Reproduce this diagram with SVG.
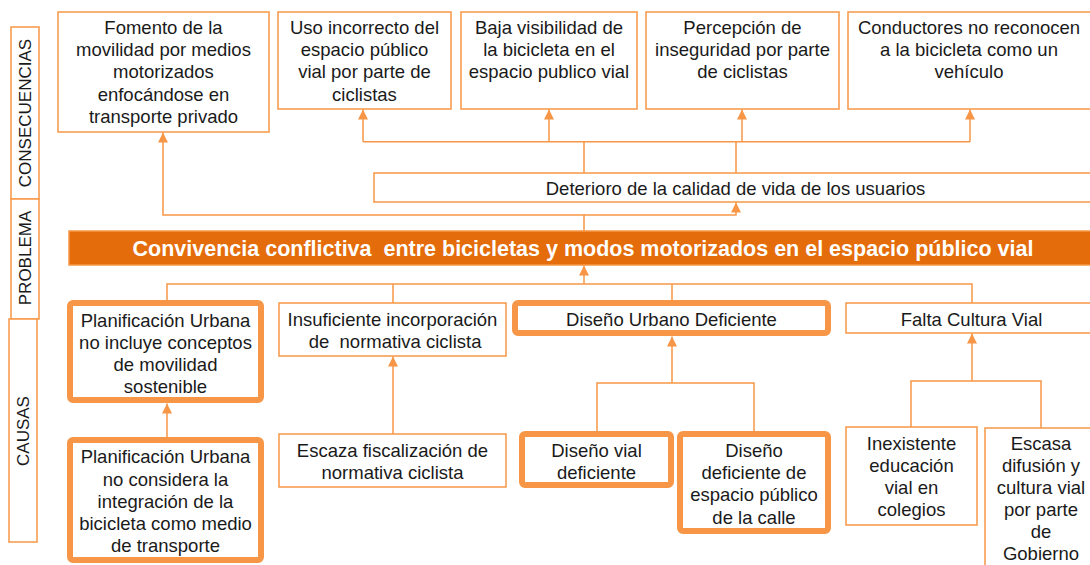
<svg xmlns="http://www.w3.org/2000/svg" width="1090" height="565" viewBox="0 0 1090 565">
<style>
text{font-family:"Liberation Sans",Arial,sans-serif;font-size:18.5px;fill:#1a1a1a;text-anchor:middle}
.box{fill:#fff;stroke:#F79646;stroke-width:1.5}
.thick{fill:#fff;stroke:#F79646;stroke-width:6}
.lab{fill:#fff;stroke:#F79646;stroke-width:1.5}
.labt{font-size:17px}
.bar{fill:#E46C0A;stroke:#F79646;stroke-width:1.5}
.bart{font-size:21.5px;font-weight:bold;fill:#fff}
.con{fill:none;stroke:#F79646;stroke-width:1.5}
.arr{marker-end:url(#ah)}
</style>
<defs>
<marker id="ah" markerUnits="userSpaceOnUse" markerWidth="10" markerHeight="10" refX="9" refY="4.5" orient="auto" viewBox="0 0 9 9">
<path d="M0,0 L9,4.5 L0,9 z" fill="#F79646"/>
</marker>
</defs>

<g id="label-consecuencias">
<rect class="lab" x="11" y="27" width="28" height="172"/>
<text class="labt" transform="translate(31,113) rotate(-90)">CONSECUENCIAS</text>
</g>
<g id="label-problema">
<rect class="lab" x="11" y="199" width="28" height="120"/>
<text class="labt" transform="translate(31,258) rotate(-90)">PROBLEMA</text>
</g>
<g id="label-causas">
<rect class="lab" x="9" y="319" width="28" height="223"/>
<text class="labt" transform="translate(29,431) rotate(-90)">CAUSAS</text>
</g>

<g id="connectors">
<path class="con arr" d="M584,231 V215 H163 V132.5"/>
<path class="con arr" d="M584,215 H736 V202.5"/>
<path class="con" d="M584,173 V141.7 M736,173 V141.7 M363,141.7 H970"/>
<path class="con arr" d="M363,141.7 V109.5"/>
<path class="con arr" d="M549,141.7 V109.5"/>
<path class="con arr" d="M742,141.7 V109.5"/>
<path class="con arr" d="M970,141.7 V109.5"/>
<path class="con" d="M167,300 V284 H972 V303 M393,284 V303 M672,284 V300"/>
<path class="con arr" d="M584,284 V265.5"/>
<path class="con arr" d="M167,437 V403.5"/>
<path class="con arr" d="M393,434 V356.5"/>
<path class="con" d="M597,431 V383 H754 V431"/>
<path class="con arr" d="M672,383 V336.5"/>
<path class="con" d="M911,427 V381 H1041 V428"/>
<path class="con arr" d="M972,381 V333.5"/>
</g>

<g id="c1">
<rect class="box" x="58" y="12" width="211" height="120"/>
<text x="163.5" y="34">Fomento de la</text>
<text x="163.5" y="56.2">movilidad por medios</text>
<text x="163.5" y="78.4">motorizados</text>
<text x="163.5" y="100.6">enfocándose en</text>
<text x="163.5" y="122.8">transporte privado</text>
</g>
<g id="c2">
<rect class="box" x="278" y="12" width="173" height="97"/>
<text x="364.5" y="34">Uso incorrecto del</text>
<text x="364.5" y="56.2">espacio público</text>
<text x="364.5" y="78.4">vial por parte de</text>
<text x="364.5" y="100.6">ciclistas</text>
</g>
<g id="c3">
<rect class="box" x="461" y="12" width="176" height="97"/>
<text x="549" y="34">Baja visibilidad de</text>
<text x="549" y="56.2">la bicicleta en el</text>
<text x="549" y="78.4">espacio publico vial</text>
</g>
<g id="c4">
<rect class="box" x="646" y="12" width="193" height="97"/>
<text x="742.5" y="34">Percepción de</text>
<text x="742.5" y="56.2">inseguridad por parte</text>
<text x="742.5" y="78.4">de ciclistas</text>
</g>
<g id="c5">
<rect class="box" x="848" y="12" width="260" height="97"/>
<text x="969" y="34">Conductores no reconocen</text>
<text x="969" y="56.2">a la bicicleta como un</text>
<text x="969" y="78.4">vehículo</text>
</g>
<g id="deterioro">
<rect class="box" x="374" y="173" width="730" height="29"/>
<text x="735.5" y="195">Deterioro de la calidad de vida de los usuarios</text>
</g>
<g id="problema">
<rect class="bar" x="69" y="231" width="1035" height="34"/>
<text class="bart" x="583" y="256" xml:space="preserve">Convivencia conflictiva  entre bicicletas y modos motorizados en el espacio público vial</text>
</g>
<g id="plan1">
<rect class="thick" x="70" y="303" width="191" height="97" rx="3"/>
<text x="165.5" y="326.7">Planificación Urbana</text>
<text x="165.5" y="348.9">no incluye conceptos</text>
<text x="165.5" y="371.1">de movilidad</text>
<text x="165.5" y="393.3">sostenible</text>
</g>
<g id="plan2">
<rect class="thick" x="70" y="440" width="191" height="120" rx="3"/>
<text x="165.5" y="463.3">Planificación Urbana</text>
<text x="165.5" y="485.5">no considera la</text>
<text x="165.5" y="507.7">integración de la</text>
<text x="165.5" y="529.9">bicicleta como medio</text>
<text x="165.5" y="552.1">de transporte</text>
</g>
<g id="insuficiente">
<rect class="box" x="279" y="303" width="227" height="53"/>
<text x="392.5" y="326">Insuficiente incorporación</text>
<text x="392.5" y="348.2" xml:space="preserve"> de  normativa ciclista</text>
</g>
<g id="escaza">
<rect class="box" x="279" y="434" width="227" height="53"/>
<text x="392.5" y="457">Escaza fiscalización de</text>
<text x="392.5" y="479.2">normativa ciclista</text>
</g>
<g id="disurb">
<rect class="thick" x="515" y="303" width="313" height="30" rx="3"/>
<text x="671.5" y="326">Diseño Urbano Deficiente</text>
</g>
<g id="disvial">
<rect class="thick" x="522" y="434" width="149" height="51" rx="3"/>
<text x="596.5" y="457">Diseño vial</text>
<text x="596.5" y="479.2">deficiente</text>
</g>
<g id="disesp">
<rect class="thick" x="680" y="434" width="148" height="97" rx="3"/>
<text x="754" y="457">Diseño</text>
<text x="754" y="479.2">deficiente de</text>
<text x="754" y="501.4">espacio público</text>
<text x="754" y="523.6">de la calle</text>
</g>
<g id="falta">
<rect class="box" x="846" y="303" width="260" height="30"/>
<text x="971.5" y="326">Falta Cultura Vial</text>
</g>
<g id="inexistente">
<rect class="box" x="846" y="427" width="131" height="98"/>
<text x="911.5" y="450">Inexistente</text>
<text x="911.5" y="472">educación</text>
<text x="911.5" y="494">vial en</text>
<text x="911.5" y="516">colegios</text>
</g>
<g id="escasa">
<rect class="box" x="985" y="428" width="120" height="150"/>
<text x="1041" y="450">Escasa</text>
<text x="1041" y="472">difusión y</text>
<text x="1041" y="494">cultura vial</text>
<text x="1041" y="516">por parte</text>
<text x="1041" y="538">de</text>
<text x="1041" y="560">Gobierno</text>
</g>
</svg>
